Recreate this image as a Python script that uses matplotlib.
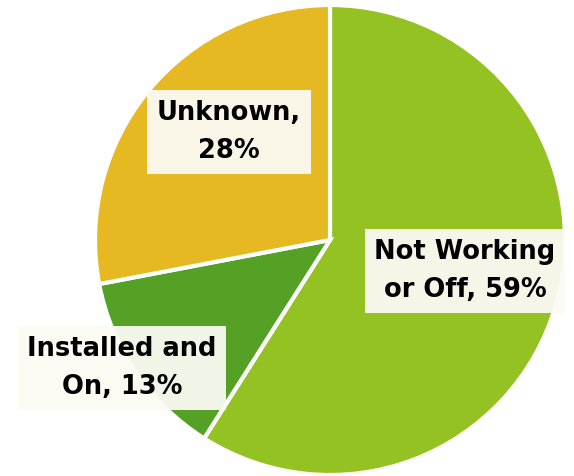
import matplotlib.pyplot as plt

labels = ["Not Working\nor Off, 59%", "Installed and\nOn, 13%", "Unknown,\n28%"]
values = [59, 13, 28]
colors = ["#95C223", "#54A126", "#E6B822"]

W, H = 574, 476
fig = plt.figure(figsize=(W / 100, H / 100), dpi=100)
ax = fig.add_axes([0, 0, 1, 1])
ax.set_aspect("equal")
ax.axis("off")

ax.pie(values, colors=colors, startangle=90, counterclock=False,
       center=(330, H - 240), radius=235,
       wedgeprops=dict(edgecolor="white", linewidth=3))
ax.set_xlim(0, W)
ax.set_ylim(0, H)

label_pos = [(465, 271), (122, 368), (229, 132)]
for txt, (x, y) in zip(labels, label_pos):
    ax.text(x, H - y, txt, ha="center", va="center", fontsize=18.5,
            fontweight="bold", family="DejaVu Sans", linespacing=1.6,
            bbox=dict(boxstyle="square,pad=0.38", facecolor="#FBFAF3",
                      edgecolor="none", alpha=0.95))

fig.savefig("out.png", dpi=100, facecolor="white")
